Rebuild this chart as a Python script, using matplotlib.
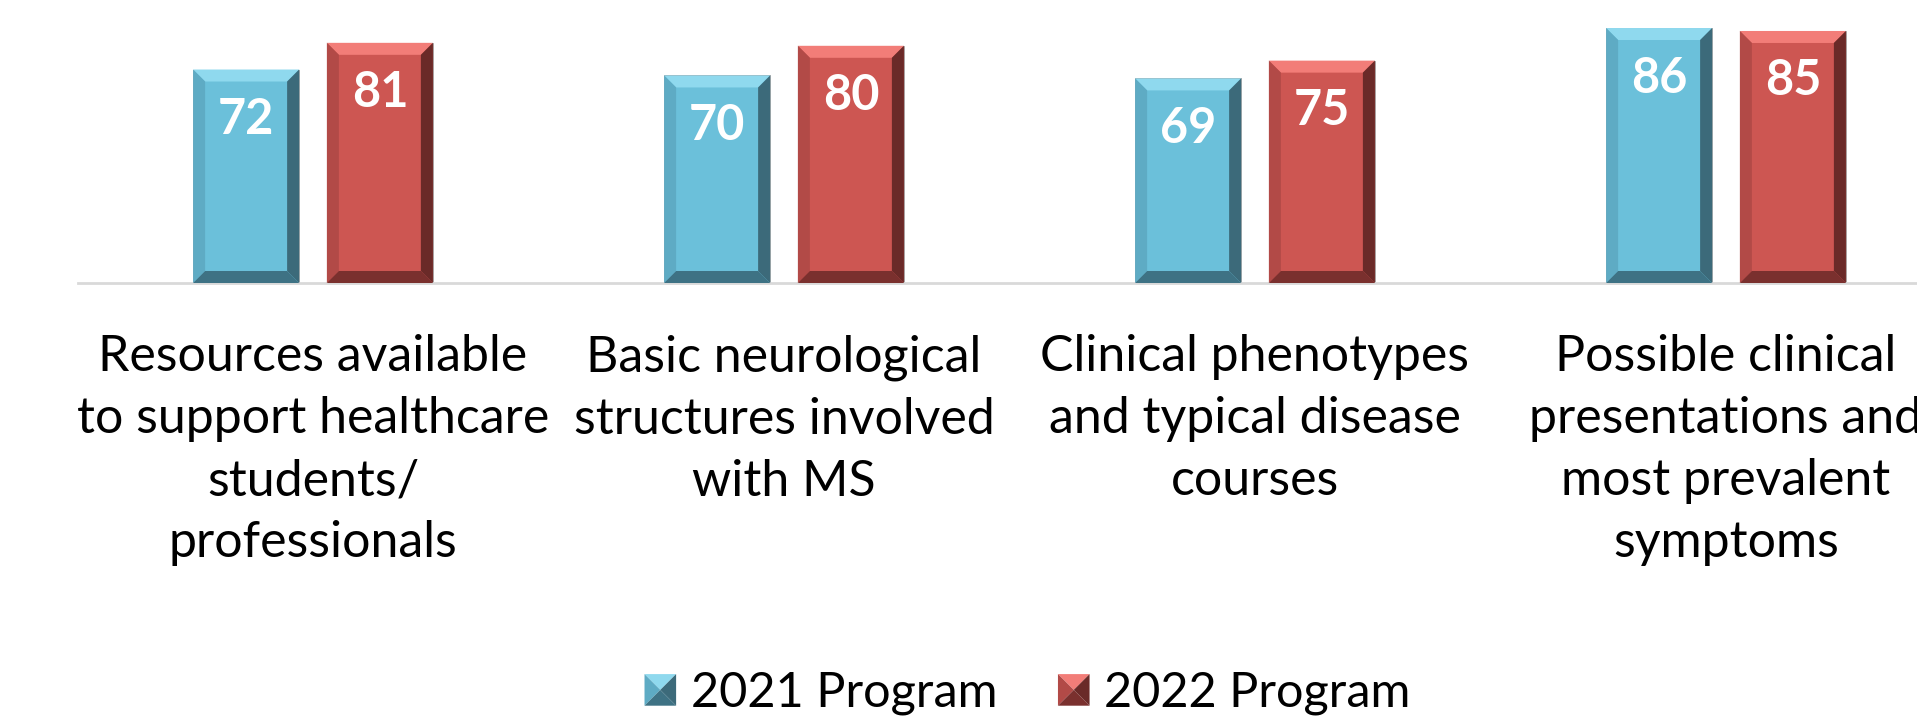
import matplotlib
matplotlib.use("Agg")
import matplotlib.pyplot as plt
from matplotlib.patches import Polygon
from matplotlib.legend_handler import HandlerBase
import numpy as np

plt.rcParams['font.family'] = ['Lato', 'DejaVu Sans']

categories = [
    "Resources available\nto support healthcare\nstudents/\nprofessionals",
    "Basic neurological\nstructures involved\nwith MS",
    "Clinical phenotypes\nand typical disease\ncourses",
    "Possible clinical\npresentations and\nmost prevalent\nsymptoms",
]
series_names = ["2021 Program", "2022 Program"]
values_2021 = [72, 70, 69, 86]
values_2022 = [81, 80, 75, 85]

# face, top, left, right, bottom
blue = ["#6BC0DA", "#8FD9EE", "#5EABC4", "#3C6A7A", "#3E7284"]
red = ["#CD5652", "#F27D78", "#B24A47", "#6A2A28", "#7A302E"]

W, H, DPI = 1917, 716, 100
fig = plt.figure(figsize=(W / DPI, H / DPI), dpi=DPI)
ax_left, ax_w = 77.5 / W, 1884 / W
ax_bot = (H - 283) / H
ax = fig.add_axes([ax_left, ax_bot, ax_w, 1 - ax_bot])

ymax = 283 / 2.965
ax.set_xlim(-0.5, 3.5)
ax.set_ylim(0, ymax)

bw = 106 / 471
off = 0.142
x = np.arange(len(categories))

# bevel size in data units (about 12 px)
bx = 12 / 471
by = 12 / 2.965


def bevel_bar(xc, val, cols):
    x0, x1 = xc - bw / 2, xc + bw / 2
    y0, y1 = 0, val
    ax.bar(xc, val, bw, color=cols[0], edgecolor="#A0A0A0", linewidth=0.6, zorder=2)
    polys = [
        ([(x0, y1), (x1, y1), (x1 - bx, y1 - by), (x0 + bx, y1 - by)], cols[1]),
        ([(x0, y0), (x0, y1), (x0 + bx, y1 - by), (x0 + bx, y0 + by)], cols[2]),
        ([(x1, y0), (x1, y1), (x1 - bx, y1 - by), (x1 - bx, y0 + by)], cols[3]),
        ([(x0, y0), (x1, y0), (x1 - bx, y0 + by), (x0 + bx, y0 + by)], cols[4]),
    ]
    for pts, c in polys:
        ax.add_patch(Polygon(pts, closed=True, facecolor=c, edgecolor="none", zorder=3))
    ax.annotate(str(val), (xc, val), xytext=(0, -36), textcoords="offset points",
                ha="center", va="center", color="white", fontsize=35,
                fontweight="bold", zorder=4)


for i in range(len(categories)):
    bevel_bar(x[i] - off, values_2021[i], blue)
    bevel_bar(x[i] + off, values_2022[i], red)

for s in ["top", "right", "left"]:
    ax.spines[s].set_visible(False)
ax.spines["bottom"].set_color("#D9D9D9")
ax.spines["bottom"].set_linewidth(2)
ax.set_yticks([])
ax.set_xticks(x)
# the last label runs past the right edge, as in the source chart
ax.set_xticklabels(categories, fontsize=36, linespacing=1.43, va="top")
ax.tick_params(axis="x", length=0, pad=37)


class BevelHandler(HandlerBase):
    def __init__(self, cols):
        super().__init__()
        self.cols = cols

    def create_artists(self, legend, orig_handle, xdescent, ydescent, width, height, fontsize, trans):
        s = min(width, height) * 1.0
        x0 = (width - s) / 2 - xdescent
        y0 = (height - s) / 2
        x1, y1 = x0 + s, y0 + s
        cx, cy = (x0 + x1) / 2, (y0 + y1) / 2
        c = self.cols
        tris = [
            ([(x0, y1), (x1, y1), (cx, cy)], c[1]),
            ([(x0, y0), (x0, y1), (cx, cy)], c[2]),
            ([(x1, y0), (x1, y1), (cx, cy)], c[3]),
            ([(x0, y0), (x1, y0), (cx, cy)], c[4]),
        ]
        arts = []
        for pts, col in tris:
            p = Polygon(pts, closed=True, facecolor=col, edgecolor="none", transform=trans)
            arts.append(p)
        return arts


h1 = Polygon([(0, 0)], label=series_names[0])
h2 = Polygon([(0, 0)], label=series_names[1])
fig.legend([h1, h2], series_names, loc="center", bbox_to_anchor=(0.536, 0.033),
           ncol=2, frameon=False, fontsize=35, handlelength=0.65, handleheight=0.65,
           handletextpad=0.3, columnspacing=1.25,
           handler_map={h1: BevelHandler(blue), h2: BevelHandler(red)})

fig.savefig("out.png", dpi=DPI)
